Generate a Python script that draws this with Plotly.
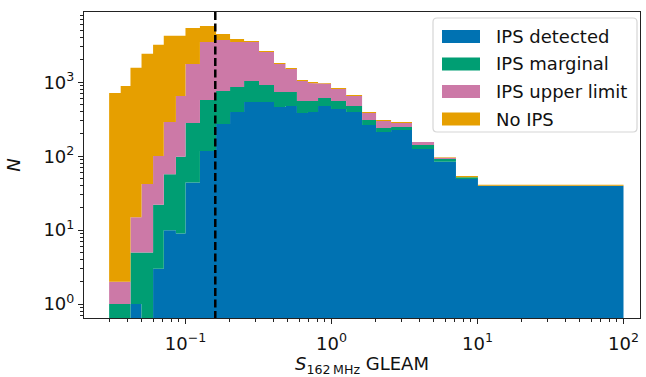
import plotly.graph_objects as go

# Bin edges (S_162MHz, Jy)
bin_edges = [0.03, 0.036, 0.042, 0.05, 0.06, 0.071, 0.086, 0.1, 0.1256, 0.162,
             0.202, 0.252, 0.319, 0.404, 0.484, 0.580, 0.690, 0.809, 0.993,
             1.26, 1.62, 2.02, 2.56, 3.56, 5.04, 7.12, 10.07, 100]

# Counts per bin for each category (stacked bottom -> top)
ips_detected = [0, 0, 1, 0, 3, 10, 9, 44, 118, 273, 396, 541, 541, 463, 477,
                384, 396, 477, 435, 396, 264, 212, 226, 125, 84, 49, 40]
ips_marginal = [1, 1, 4, 5, 19, 47, 89, 237, 457, 489, 467, 499, 377, 275, 261,
                174, 162, 136, 123, 81, 45, 29, 22, 17, 8, 3, 0]
ips_upper = [1, 1, 10, 37, 79, 233, 554, 1484, 2927, 2965, 2639, 2462, 1647,
             1027, 773, 482, 419, 343, 253, 175, 75, 58, 33, 14, 3, 0, 0]
no_ips = [714, 888, 1558, 2391, 3118, 3970, 3608, 3651, 2263, 767, 343, 111,
          81, 56, 47, 33, 31, 21, 25, 20, 12, 10, 9, 0, 2, 2, 1]

series_names = ["IPS detected", "IPS marginal", "IPS upper limit", "No IPS"]
series_vals = [ips_detected, ips_marginal, ips_upper, no_ips]
series_colors = ["#0072B2", "#009E73", "#CC79A7", "#E69F00"]

cut_value = 0.16

x_tickvals = [0.1, 1, 10, 100]
x_ticktext = ["10<sup>\u22121</sup>", "10<sup>0</sup>", "10<sup>1</sup>", "10<sup>2</sup>"]
y_tickvals = [1, 10, 100, 1000]
y_ticktext = ["10<sup>0</sup>", "10<sup>1</sup>", "10<sup>2</sup>", "10<sup>3</sup>"]

FLOOR = 1e-3
font_family = "DejaVu Sans"
FS = 18

# plot area in pixels (for the hand-drawn matplotlib-style legend)
L, R, T, B = 84, 640, 12, 318
def px(xp):
    return (xp - L) / (R - L)
def py(yp):
    return (B - yp) / (B - T)

fig = go.Figure()
nb = len(bin_edges) - 1
cum = [0.0] * nb
for name, vals, col in zip(series_names, series_vals, series_colors):
    bottom = cum[:]
    top = [b + v for b, v in zip(bottom, vals)]
    xs, ys = [], []
    for i in range(nb):
        t = top[i] if top[i] > 0 else FLOOR
        xs += [bin_edges[i], bin_edges[i + 1]]
        ys += [t, t]
    for i in reversed(range(nb)):
        b = bottom[i] if bottom[i] > 0 else FLOOR
        xs += [bin_edges[i + 1], bin_edges[i]]
        ys += [b, b]
    fig.add_trace(go.Scatter(x=xs, y=ys, mode="lines", fill="toself",
                             fillcolor=col, line=dict(width=0, color=col),
                             name=name, hoverinfo="skip", showlegend=False))
    cum = top

fig.add_trace(go.Scatter(x=[cut_value, cut_value], y=[FLOOR, 1e6], mode="lines",
                         line=dict(color="black", width=2.5, dash="8px,3.5px"),
                         showlegend=False, hoverinfo="skip"))

# matplotlib-style legend (box, patches, labels)
shapes = []
bx0, bx1, by0, by1, rad = 433, 637, 18, 132, 4
path = (f"M {px(bx0+rad)},{py(by0)} L {px(bx1-rad)},{py(by0)} "
        f"Q {px(bx1)},{py(by0)} {px(bx1)},{py(by0+rad)} "
        f"L {px(bx1)},{py(by1-rad)} Q {px(bx1)},{py(by1)} {px(bx1-rad)},{py(by1)} "
        f"L {px(bx0+rad)},{py(by1)} Q {px(bx0)},{py(by1)} {px(bx0)},{py(by1-rad)} "
        f"L {px(bx0)},{py(by0+rad)} Q {px(bx0)},{py(by0)} {px(bx0+rad)},{py(by0)} Z")
shapes.append(dict(type="path", xref="paper", yref="paper", path=path,
                   fillcolor="rgba(255,255,255,0.8)", line=dict(color="#d6d6d6", width=1.2)))
annotations = []
row_y = [36.5, 64, 91.5, 119]
for name, col, ry in zip(series_names, series_colors, row_y):
    shapes.append(dict(type="rect", xref="paper", yref="paper",
                       x0=px(442), x1=px(480), y0=py(ry + 6.5), y1=py(ry - 6.5),
                       fillcolor=col, line=dict(width=0)))
    annotations.append(dict(xref="paper", yref="paper", x=px(494), y=py(ry),
                            xanchor="left", yanchor="middle", text=name,
                            showarrow=False,
                            font=dict(family=font_family, size=FS, color="#111")))

minor_x = [m * 10 ** e for e in range(-2, 3) for m in range(2, 10)]
minor_y = [m * 10 ** e for e in range(-1, 4) for m in range(2, 10)]

axis_common = dict(showgrid=False, zeroline=False, showline=True, mirror=True,
                   linecolor="#222", linewidth=1.2, ticks="outside", ticklen=5,
                   tickwidth=1.1, tickcolor="#222",
                   tickfont=dict(family=font_family, size=FS, color="#111"))

fig.update_layout(
    width=646, height=377,
    margin=dict(l=L, r=646 - R, t=T, b=377 - B),
    paper_bgcolor="white", plot_bgcolor="white",
    font=dict(family=font_family, size=FS, color="#111"),
    xaxis=dict(type="log", range=[-1.695, 2.113], tickmode="array",
               tickvals=x_tickvals, ticktext=x_ticktext,
               minor=dict(tickmode="array", tickvals=minor_x, ticks="outside",
                          ticklen=3, tickwidth=0.9, tickcolor="#222"),
               title=dict(text="<i>S</i><sub>162\u2009MHz</sub> GLEAM",
                          font=dict(family=font_family, size=FS), standoff=5),
               ticklabelstandoff=4,
               **axis_common),
    yaxis=dict(type="log", range=[-0.188, 3.95], tickmode="array",
               tickvals=y_tickvals, ticktext=y_ticktext,
               minor=dict(tickmode="array", tickvals=minor_y, ticks="outside",
                          ticklen=3, tickwidth=0.9, tickcolor="#222"),
               title=dict(text="<i>N</i>", font=dict(family=font_family, size=FS),
                          standoff=18),
               **axis_common),
    shapes=shapes,
    annotations=annotations,
    showlegend=False,
)

fig.write_html("out.html")
